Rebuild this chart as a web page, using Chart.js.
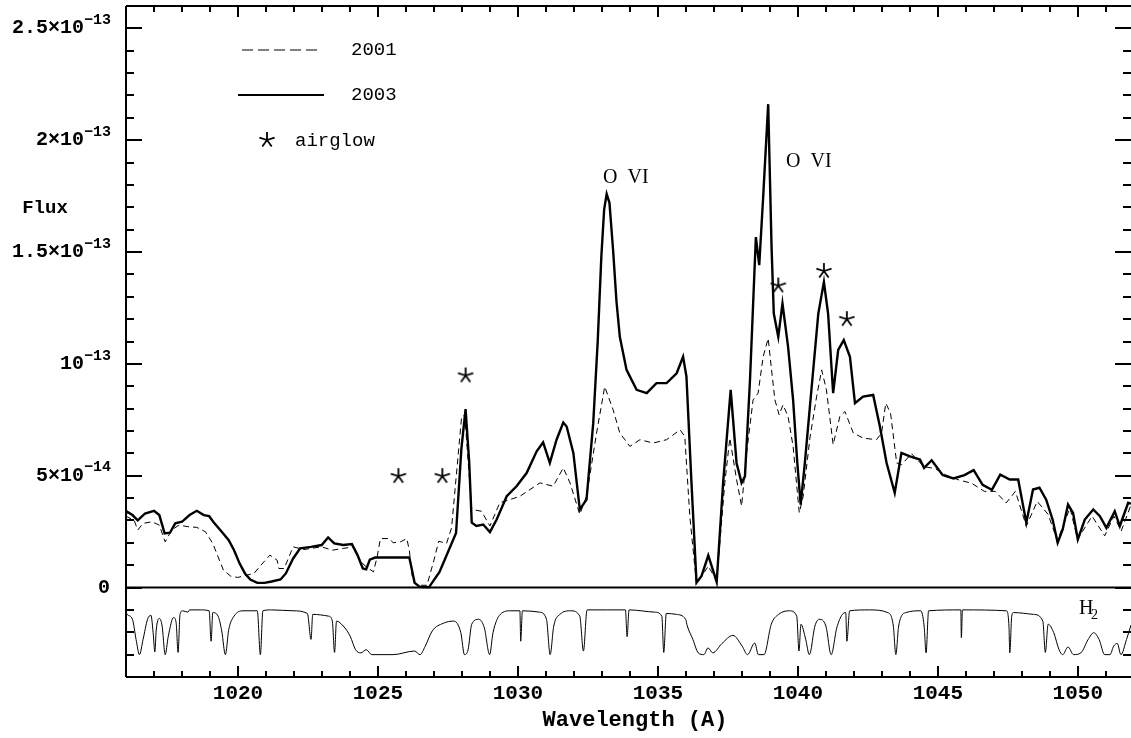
<!DOCTYPE html>
<html>
<head>
<meta charset="utf-8">
<script src="https://cdn.jsdelivr.net/npm/chart.js@4.4.1/dist/chart.umd.min.js"></script>
<style>
  html, body { margin: 0; padding: 0; background: #fff; overflow: hidden; }
  #wrap { width: 1131px; height: 738px; position: relative; }
  #spectrum { display: block; }
</style>
</head>
<body>
<div id="wrap"><canvas id="spectrum"></canvas></div>
<script>
// flux values are in units of 1e-14
const FLUX_UNIT = 1e-14;

const wave2003 = [1016.0, 1016.04, 1016.23, 1016.42, 1016.68, 1017.0, 1017.19, 1017.38, 1017.57, 1017.76,
  1018.0, 1018.27, 1018.53, 1018.78, 1018.97, 1019.16, 1019.42, 1019.67, 1019.86, 1020.06,
  1020.25, 1020.44, 1020.69, 1020.95, 1021.2, 1021.52, 1021.71, 1021.97, 1022.22, 1022.61,
  1022.99, 1023.22, 1023.44, 1023.76, 1024.07, 1024.27, 1024.46, 1024.58, 1024.71, 1024.9,
  1026.12, 1026.18, 1026.31, 1026.5, 1026.82, 1027.2, 1027.79, 1027.98, 1028.13, 1028.26, 1028.35, 1028.52,
  1028.76, 1029.0, 1029.24, 1029.6, 1029.95, 1030.31, 1030.67, 1030.9, 1031.14, 1031.38,
  1031.62, 1031.74, 1031.98, 1032.21, 1032.45, 1032.69, 1032.85, 1032.98, 1033.08, 1033.17, 1033.27, 1033.4, 1033.52, 1033.64,
  1033.88, 1034.24, 1034.6, 1034.95, 1035.31, 1035.67, 1035.9, 1036.02, 1036.2, 1036.38,
  1036.56, 1036.8, 1037.1, 1037.33, 1037.6, 1037.81, 1037.99, 1038.11, 1038.29, 1038.5,
  1038.62, 1038.76, 1038.94, 1039.06, 1039.14, 1039.3, 1039.45, 1039.65, 1039.83, 1039.98,
  1040.1, 1040.25, 1040.43, 1040.73, 1040.93, 1041.08, 1041.26, 1041.44, 1041.64, 1041.86,
  1042.04, 1042.33, 1042.69, 1042.93, 1043.17, 1043.46, 1043.7, 1044.0, 1044.36, 1044.51,
  1044.78, 1045.17, 1045.56, 1045.95, 1046.28, 1046.6, 1046.93, 1047.23, 1047.57, 1047.87,
  1048.16, 1048.4, 1048.63, 1048.87, 1049.1, 1049.28, 1049.46, 1049.65, 1049.83, 1050.0,
  1050.25, 1050.55, 1050.79, 1051.02, 1051.32, 1051.5, 1051.8, 1051.9];
const flux2003 = [3.3, 3.39, 3.24, 3.0, 3.31, 3.43, 3.24, 2.42, 2.45, 2.87,
  2.94, 3.24, 3.43, 3.24, 3.19, 2.87, 2.49, 2.12, 1.67, 1.07,
  0.63, 0.36, 0.21, 0.21, 0.27, 0.36, 0.63, 1.3, 1.75, 1.82,
  1.9, 2.24, 1.97, 1.9, 1.94, 1.45, 0.85, 0.81, 1.25, 1.34,
  1.34, 1.0, 0.21, 0.03, 0.01, 0.7, 2.44, 6.2, 7.98, 5.6, 2.9, 2.75,
  2.82, 2.48, 3.04, 4.08, 4.53, 5.12, 6.09, 6.49, 5.57, 6.61,
  7.38, 7.2, 6.02, 3.49, 3.93, 7.35, 11.0, 14.8, 16.9, 17.6, 17.2, 15.08, 12.8, 11.21,
  9.73, 8.84, 8.69, 9.14, 9.14, 9.58, 10.32, 9.43, 4.68, 0.22,
  0.52, 1.44, 0.25, 4.68, 8.84, 5.57, 4.68, 4.97, 9.28, 15.67,
  14.41, 17.45, 21.61, 15.22, 12.25, 11.21, 12.7, 10.77, 8.39, 5.57,
  3.71, 5.57, 8.09, 12.25, 13.66, 12.25, 8.69, 10.62, 11.06, 10.32,
  8.24, 8.54, 8.61, 7.2, 5.57, 4.23, 6.02, 5.86, 5.72, 5.35,
  5.69, 5.03, 4.88, 5.03, 5.25, 4.59, 4.37, 5.05, 4.83, 4.83,
  2.9, 4.38, 4.46, 3.93, 3.04, 2.0, 2.6, 3.71, 3.34, 2.15,
  3.04, 3.49, 3.19, 2.67, 3.41, 2.75, 3.79, 3.75];

const wave2001 = [1016.0, 1016.04, 1016.29, 1016.42, 1016.61, 1016.93, 1017.19, 1017.4, 1017.63, 1017.89,
  1018.21, 1018.53, 1018.84, 1019.1, 1019.29, 1019.48, 1019.74, 1019.99, 1020.31, 1020.57,
  1020.82, 1021.14, 1021.4, 1021.46, 1021.65, 1021.97, 1022.35, 1022.99, 1023.37, 1023.76,
  1024.14, 1024.39, 1024.58, 1024.84, 1024.97, 1025.09, 1025.41, 1025.54, 1025.8, 1026.03,
  1026.12, 1026.24, 1026.43, 1026.75, 1027.0, 1027.17, 1027.45, 1027.63, 1027.99, 1028.1,
  1028.35, 1028.7, 1029.0, 1029.35, 1029.71, 1030.07, 1030.43, 1030.79, 1031.26, 1031.62,
  1031.86, 1032.21, 1032.45, 1032.81, 1033.1, 1033.4, 1033.64, 1034.0, 1034.36, 1034.83,
  1035.31, 1035.79, 1035.96, 1036.14, 1036.38, 1036.8, 1037.1, 1037.39, 1037.57, 1037.81,
  1037.99, 1038.17, 1038.4, 1038.58, 1038.76, 1038.94, 1039.06, 1039.18, 1039.33, 1039.47,
  1039.65, 1039.83, 1040.05, 1040.19, 1040.43, 1040.67, 1040.85, 1041.02, 1041.26, 1041.5,
  1041.68, 1041.98, 1042.33, 1042.81, 1042.99, 1043.14, 1043.31, 1043.53, 1043.7, 1044.06,
  1044.51, 1044.9, 1045.29, 1045.75, 1046.21, 1046.66, 1047.05, 1047.44, 1047.77, 1048.16,
  1048.55, 1048.94, 1049.27, 1049.72, 1049.99, 1050.51, 1050.96, 1051.29, 1051.55, 1051.88];
const flux2001 = [3.1, 3.16, 3.01, 2.57, 2.87, 2.94, 2.79, 2.04, 2.57, 2.79,
  2.72, 2.69, 2.49, 1.97, 1.37, 0.78, 0.51, 0.45, 0.55, 0.63,
  1.0, 1.45, 1.22, 0.85, 0.85, 1.82, 1.7, 1.82, 1.67, 1.75,
  1.82, 1.15, 0.93, 0.7, 1.37, 2.19, 2.19, 2.0, 2.04, 2.19,
  1.67, 0.33, 0.1, 0.1, 1.22, 2.07, 1.97, 2.67, 7.65, 7.7,
  3.49, 3.41, 2.75, 3.79, 3.93, 4.08, 4.38, 4.68, 4.53, 5.35,
  4.68, 3.27, 4.08, 6.91, 8.98, 7.95, 6.91, 6.31, 6.61, 6.46,
  6.61, 7.05, 6.76, 3.19, 0.15, 0.96, 0.29, 4.68, 6.68, 4.83,
  3.64, 6.02, 8.39, 8.69, 10.32, 11.14, 9.73, 8.39, 7.72, 8.17,
  7.65, 6.31, 3.34, 4.08, 6.68, 8.54, 9.73, 8.84, 6.39, 7.65,
  7.87, 6.91, 6.68, 6.61, 6.91, 8.24, 7.8, 5.57, 5.49, 5.98,
  5.4, 5.32, 5.03, 4.81, 4.66, 4.3, 4.3, 3.78, 4.3, 2.75,
  3.85, 3.27, 2.09, 3.56, 2.16, 3.19, 2.31, 3.19, 2.53, 3.63];

// H2 transmission (0..1), drawn in the strip between -3e-14 and -1e-14
const waveH2 = [1016.0, 1016.04, 1016.23, 1016.36, 1016.48, 1016.61, 1016.77, 1016.89, 1016.97, 1017.03,
  1017.08, 1017.19, 1017.29, 1017.4, 1017.51, 1017.7, 1017.79, 1017.86, 1017.93, 1018.02,
  1018.21, 1018.27, 1018.65, 1018.97, 1019.04, 1019.1, 1019.29, 1019.42, 1019.55, 1019.67,
  1019.86, 1020.18, 1020.69, 1020.8, 1020.89, 1021.2, 1021.97, 1022.48, 1022.61, 1022.67,
  1023.24, 1023.37, 1023.45, 1023.52, 1023.76, 1024.01, 1024.2, 1024.39, 1024.58, 1024.78,
  1025.54, 1026.31, 1026.5, 1026.69, 1026.94, 1027.33, 1027.71, 1027.96, 1028.09, 1028.22,
  1028.35, 1028.6, 1028.8, 1028.99, 1029.11, 1029.37, 1029.75, 1030.07, 1030.1, 1030.16,
  1030.77, 1031.02, 1031.15, 1031.28, 1031.5, 1031.89, 1032.21, 1032.34, 1032.47, 1033.19,
  1033.84, 1033.9, 1033.97, 1034.88, 1035.14, 1035.21, 1035.3, 1035.66, 1035.99, 1036.05,
  1036.25, 1036.44, 1036.64, 1036.79, 1036.96, 1037.29, 1037.68, 1038.01, 1038.2, 1038.46,
  1038.59, 1038.79, 1039.05, 1039.31, 1039.7, 1039.96, 1040.04, 1040.11, 1040.28, 1040.41,
  1040.61, 1040.76, 1041.0, 1041.19, 1041.39, 1041.59, 1041.71, 1041.75, 1041.85, 1042.56,
  1043.21, 1043.41, 1043.5, 1043.6, 1043.86, 1044.39, 1044.51, 1044.58, 1044.67, 1045.82,
  1045.84, 1045.88, 1047.45, 1047.54, 1047.57, 1047.64, 1047.7, 1048.42, 1048.75, 1048.84,
  1048.94, 1049.14, 1049.33, 1049.46, 1049.65, 1049.85, 1050.11, 1050.37, 1050.57, 1050.76,
  1050.96, 1051.15, 1051.28, 1051.41, 1051.54, 1051.74, 1051.9];
const transH2 = [0.95, 0.9, 0.79, 0.34, 0, 0.34, 0.79, 0.88, 0.49, 0.06,
  0.55, 0.81, 0.64, 0, 0.41, 0.83, 0.72, 0.05, 0.9, 0.98,
  0.95, 1.0, 1.0, 0.98, 0.3, 0.94, 0.86, 0.53, 0, 0.56,
  0.86, 0.98, 0.98, 0, 0.98, 1.0, 0.98, 0.92, 0.34, 0.9,
  0.86, 0.75, 0.05, 0.75, 0.64, 0.41, 0.11, 0.04, 0.11, 0,
  0, 0.08, 0, 0.19, 0.53, 0.7, 0.75, 0.49, 0, 0.11,
  0.68, 0.79, 0.6, 0, 0.49, 0.9, 0.98, 0.98, 0.3, 0.98,
  0.95, 0.79, 0, 0.64, 0.9, 0.98, 0.86, 0.08, 1.0, 1.0,
  1.0, 0.4, 1.0, 0.95, 0.86, 0.05, 0.92, 0.9, 0.79, 0.64,
  0.34, 0.04, 0, 0.15, 0.04, 0.25, 0.43, 0.19, 0, 0.26,
  0, 0, 0.68, 0.9, 0.98, 0.86, 0.08, 0.68, 0.34, 0,
  0.64, 0.79, 0.64, 0, 0.6, 0.9, 0.94, 0.3, 0.98, 1.0,
  0.94, 0.64, 0, 0.64, 0.94, 0.98, 0.64, 0.04, 0.98, 1.0,
  0.38, 1.0, 0.98, 0.64, 0.04, 0.86, 0.94, 0.9, 0.75, 0.05,
  0.68, 0.49, 0.11, 0, 0.17, 0, 0.04, 0.34, 0.49, 0.34,
  0, 0, 0.19, 0.25, 0, 0.34, 0.66];

const airglowWave = [1025.73, 1027.3, 1028.13, 1039.3, 1040.93, 1041.75];
const airglowFlux = [4.98, 4.98, 9.48, 13.5, 14.15, 12.0];

const xTicks = [1020, 1025, 1030, 1035, 1040, 1045, 1050];
const yTicks = [0, 5e-14, 1e-13, 1.5e-13, 2e-13, 2.5e-13];
const yTickBase = ["0", "5×10", "10", "1.5×10", "2×10", "2.5×10"];
const yTickExp = ["", "−14", "−13", "−13", "−13", "−13"];

function makeStar(r) {
  const c = document.createElement("canvas");
  c.width = c.height = 2 * r + 4;
  const g = c.getContext("2d");
  g.strokeStyle = "#000";
  g.lineWidth = 1.8;
  g.beginPath();
  for (let i = 0; i < 5; i++) {
    const t = -Math.PI / 2 + (i * 2 * Math.PI) / 5;
    g.moveTo(r + 2, r + 2);
    g.lineTo(r + 2 + r * Math.cos(t), r + 2 + r * Math.sin(t));
  }
  g.stroke();
  return c;
}
const star = makeStar(8);

const frame = {
  id: "frame",
  afterDatasetsDraw(chart) {
    const { ctx, chartArea: a, scales } = chart;
    const x = scales.x, y = scales.y;
    ctx.save();
    ctx.strokeStyle = "#000";
    ctx.fillStyle = "#000";
    ctx.lineWidth = 2;
    ctx.beginPath();
    ctx.moveTo(a.left, a.top); ctx.lineTo(a.right, a.top);
    ctx.moveTo(a.left, a.top); ctx.lineTo(a.left, a.bottom);
    ctx.moveTo(a.left, a.bottom); ctx.lineTo(a.right, a.bottom);
    // x ticks, every angstrom
    for (let w = 1017; w <= 1051; w++) {
      const px = Math.round(x.getPixelForValue(w));
      const len = w % 5 === 0 ? 11 : 6;
      ctx.moveTo(px, a.bottom); ctx.lineTo(px, a.bottom - len);
      ctx.moveTo(px, a.top); ctx.lineTo(px, a.top + len);
    }
    // y ticks, every 1e-14
    for (let k = -3; k <= 25; k++) {
      const py = Math.round(y.getPixelForValue(k * FLUX_UNIT));
      const len = k % 5 === 0 ? 16 : 8;
      ctx.moveTo(a.left, py); ctx.lineTo(a.left + len, py);
      ctx.moveTo(a.right, py); ctx.lineTo(a.right - len, py);
    }
    ctx.stroke();

    // x tick labels
    ctx.font = "bold 21px 'Liberation Mono'";
    ctx.textAlign = "center";
    ctx.textBaseline = "middle";
    xTicks.forEach(w => ctx.fillText(String(w), x.getPixelForValue(w), 694));
    ctx.font = "bold 22px 'Liberation Mono'";
    ctx.fillText("Wavelength (A)", 635, 720);

    // y tick labels with exponent
    yTicks.forEach((v, i) => {
      const py = y.getPixelForValue(v);
      ctx.textAlign = "right";
      ctx.textBaseline = "middle";
      if (yTickExp[i] === "") {
        ctx.font = "bold 20px 'Liberation Mono'";
        ctx.fillText(yTickBase[i], 110, py);
        return;
      }
      ctx.font = "bold 15px 'Liberation Mono'";
      ctx.fillText(yTickExp[i], 111, py - 8);
      const ew = ctx.measureText(yTickExp[i]).width;
      ctx.font = "bold 20px 'Liberation Mono'";
      ctx.fillText(yTickBase[i], 111 - ew, py);
    });
    ctx.font = "bold 19px 'Liberation Mono'";
    ctx.textAlign = "center";
    ctx.fillText("Flux", 45, 208);

    // legend
    ctx.lineWidth = 1;
    ctx.setLineDash([11, 5]);
    ctx.beginPath(); ctx.moveTo(242, 50); ctx.lineTo(319, 50); ctx.stroke();
    ctx.setLineDash([]);
    ctx.lineWidth = 2.2;
    ctx.beginPath(); ctx.moveTo(238, 95); ctx.lineTo(324, 95); ctx.stroke();
    ctx.drawImage(star, 267 - star.width / 2, 140 - star.height / 2);
    ctx.font = "19px 'Liberation Mono'";
    ctx.textAlign = "left";
    ctx.fillText("2001", 351, 50);
    ctx.fillText("2003", 351, 95);
    ctx.fillText("airglow", 295, 141);

    // line identifications
    ctx.font = "20px 'Liberation Serif'";
    ctx.textAlign = "left";
    ctx.fillText("O  VI", 603, 178);
    ctx.fillText("O  VI", 786, 162);
    ctx.fillText("H", 1079, 609);
    ctx.font = "14px 'Liberation Serif'";
    ctx.fillText("2", 1091, 615);
    ctx.restore();
  }
};

function pairs(ws, vs, f) {
  return ws.map((w, i) => ({ x: w, y: f(vs[i]) }));
}

const ctx = document.getElementById("spectrum").getContext("2d");
new Chart(ctx, {
  type: "line",
  data: {
    datasets: [
      {
        label: "2003",
        data: pairs(wave2003, flux2003, v => v * FLUX_UNIT),
        borderColor: "#000",
        borderWidth: 2.4,
        pointRadius: 0,
        tension: 0,
      },
      {
        label: "2001",
        data: pairs(wave2001, flux2001, v => v * FLUX_UNIT),
        borderColor: "#000",
        borderWidth: 1,
        borderDash: [6, 4],
        pointRadius: 0,
        tension: 0,
      },
      {
        label: "H2",
        data: pairs(waveH2, transH2, t => (-3 + 2 * t) * FLUX_UNIT),
        borderColor: "#000",
        borderWidth: 1,
        pointRadius: 0,
        cubicInterpolationMode: "monotone",
      },
      {
        label: "zero",
        data: [{ x: 1016, y: 0 }, { x: 1051.9, y: 0 }],
        borderColor: "#000",
        borderWidth: 2,
        pointRadius: 0,
      },
      {
        type: "scatter",
        label: "airglow",
        data: pairs(airglowWave, airglowFlux, v => v * FLUX_UNIT),
        pointStyle: star,
        pointRadius: 8,
        showLine: false,
      },
    ],
  },
  options: {
    responsive: true,
    maintainAspectRatio: false,
    animation: false,
    layout: { autoPadding: false, padding: { top: 6, left: 0, right: 0, bottom: 0 } },
    plugins: { legend: { display: false }, tooltip: { enabled: false } },
    scales: {
      x: {
        type: "linear",
        min: 1016,
        max: 1051.9,
        ticks: { display: false },
        grid: { display: false },
        border: { display: false },
        afterFit: s => { s.height = 61; },
      },
      y: {
        min: -4e-14,
        max: 2.6e-13,
        ticks: { display: false },
        grid: { display: false },
        border: { display: false },
        afterFit: s => { s.width = 126; },
      },
    },
  },
  plugins: [frame],
});
</script>
</body>
</html>
